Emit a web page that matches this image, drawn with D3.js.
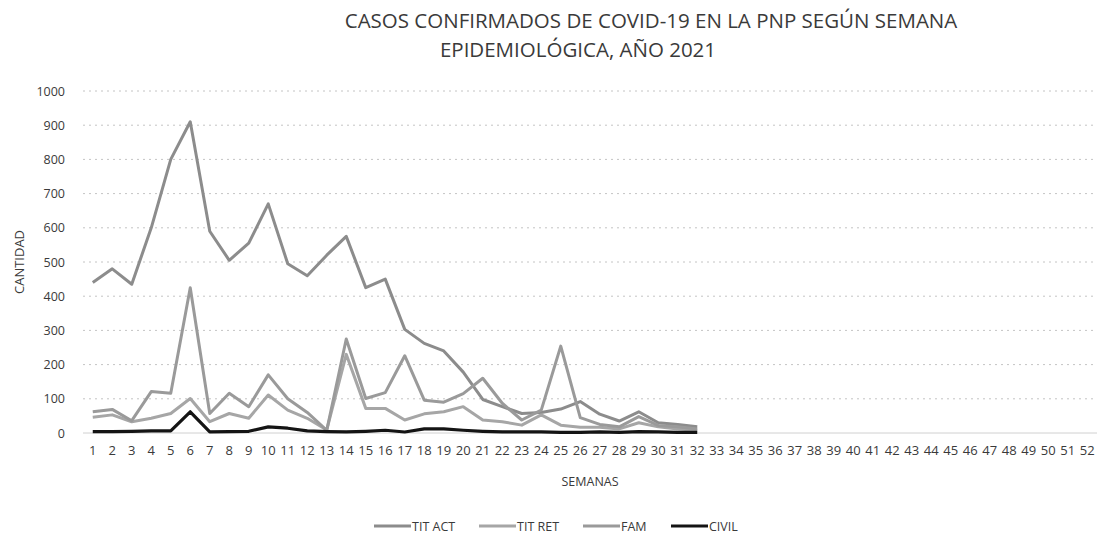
<!DOCTYPE html>
<html>
<head>
<meta charset="utf-8">
<script src="https://cdn.jsdelivr.net/npm/d3@7"></script>
<style>
  body { margin: 0; background: #fff; }
  svg text { font-family: "Open Sans", sans-serif; fill: #3a3a3a; }
</style>
</head>
<body>
<div id="chart"></div>
<script>
// weeks (x categories)
const weeks = [1,2,3,4,5,6,7,8,9,10,11,12,13,14,15,16,17,18,19,20,21,22,23,24,25,26,
  27,28,29,30,31,32,33,34,35,36,37,38,39,40,41,42,43,44,45,46,47,48,49,50,51,52];

// values, weeks 1..32 (rest of the year empty)
const titAct = [440,480,435,600,800,910,590,505,555,670,495,460,520,575,425,450,
  303,262,240,178,98,77,57,60,70,92,55,35,62,30,25,18];
const titRet = [46,53,33,43,57,101,33,57,43,111,67,43,9,230,72,72,
  38,56,62,77,38,33,23,53,23,17,17,12,30,18,12,8];
const fam = [62,69,36,121,116,425,57,116,77,170,100,60,8,275,101,118,
  226,96,90,115,160,87,38,67,254,45,25,18,48,22,18,12];
const civil = [4,4,5,6,6,62,3,4,5,18,14,6,4,3,5,8,
  3,12,12,8,5,3,3,3,2,2,3,2,4,3,2,2];

const yTicks = [0,100,200,300,400,500,600,700,800,900,1000];

const series = [
  { name: 'TIT ACT', values: titAct, color: '#8c8c8c' },
  { name: 'TIT RET', values: titRet, color: '#a6a6a6' },
  { name: 'FAM', values: fam, color: '#9a9a9a' },
  { name: 'CIVIL', values: civil, color: '#141414' }
];

const W = 1103, H = 534;
const plot = { left: 83, right: 1097, top: 91, bottom: 433 };

const svg = d3.select('#chart')
  .append('svg')
  .attr('width', W)
  .attr('height', H);

const x = d3.scaleBand()
  .domain(weeks)
  .range([plot.left, plot.right])
  .padding(0);

const y = d3.scaleLinear()
  .domain([0, 1000])
  .range([plot.bottom, plot.top]);

const cx = w => x(w) + x.bandwidth() / 2;

// gridlines
svg.append('g')
  .selectAll('line')
  .data(yTicks)
  .enter()
  .append('line')
  .attr('x1', plot.left)
  .attr('x2', plot.right)
  .attr('y1', d => y(d))
  .attr('y2', d => y(d))
  .attr('stroke', d => d === 0 ? '#d0d0d0' : '#c4c4c4')
  .attr('stroke-width', 1)
  .attr('stroke-dasharray', d => d === 0 ? null : '2,4');

// Y axis
const yAxis = svg.append('g')
  .attr('transform', `translate(${plot.left},0)`)
  .call(d3.axisLeft(y).tickValues(yTicks).tickFormat(d3.format('d')).tickSize(0).tickPadding(18));
yAxis.select('.domain').remove();
yAxis.selectAll('text')
  .style('font-size', '12.5px')
  .style('fill', '#3a3a3a');

// X axis
const xAxis = svg.append('g')
  .attr('transform', `translate(0,${plot.bottom})`)
  .call(d3.axisBottom(x).tickSize(0).tickPadding(13));
xAxis.select('.domain').remove();
xAxis.selectAll('text')
  .style('font-size', '13px')
  .style('fill', '#3a3a3a');

// lines
const line = d3.line()
  .defined(d => d.v != null)
  .x(d => cx(d.w))
  .y(d => y(d.v));

svg.append('g')
  .selectAll('path')
  .data(series)
  .enter()
  .append('path')
  .attr('fill', 'none')
  .attr('stroke', d => d.color)
  .attr('stroke-width', d => d.name === 'CIVIL' ? 3.2 : 3)
  .attr('stroke-linejoin', 'round')
  .attr('d', d => line(weeks.map((w, i) => ({ w, v: d.values[i] }))));

// title
svg.append('text')
  .attr('x', 651)
  .attr('y', 28)
  .attr('text-anchor', 'middle')
  .style('font-size', '20.5px')
  .text('CASOS CONFIRMADOS DE COVID-19 EN LA PNP SEGÚN SEMANA');
svg.append('text')
  .attr('x', 578)
  .attr('y', 57)
  .attr('text-anchor', 'middle')
  .style('font-size', '20.5px')
  .text('EPIDEMIOLÓGICA, AÑO 2021');

// axis titles
svg.append('text')
  .attr('x', (plot.left + plot.right) / 2)
  .attr('y', 486)
  .attr('text-anchor', 'middle')
  .style('font-size', '12.5px')
  .text('SEMANAS');

svg.append('text')
  .attr('transform', `translate(24,${(plot.top + plot.bottom) / 2}) rotate(-90)`)
  .attr('text-anchor', 'middle')
  .style('font-size', '13px')
  .text('CANTIDAD');

// legend
const legendX = [374, 479, 583, 671];
const lg = svg.append('g')
  .selectAll('g')
  .data(series)
  .enter()
  .append('g')
  .attr('transform', (d, i) => `translate(${legendX[i]},526)`);
lg.append('line')
  .attr('x1', 0).attr('x2', 37)
  .attr('stroke', d => d.color)
  .attr('stroke-width', 3);
lg.append('text')
  .attr('x', 38)
  .attr('y', 4.5)
  .style('font-size', '12.5px')
  .text(d => d.name);
</script>
</body>
</html>
